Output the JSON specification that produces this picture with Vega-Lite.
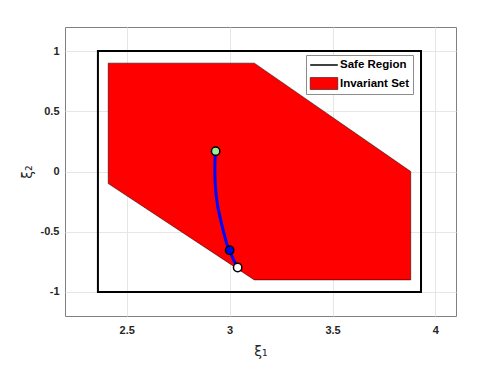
{
  "$schema": "https://vega.github.io/schema/vega-lite/v6.json",
  "width": 391,
  "height": 289,
  "autosize": {"type": "none"},
  "padding": {"left": 65, "top": 27, "right": 47, "bottom": 49},
  "background": "white",
  "config": {
    "view": {"stroke": "#808080", "strokeWidth": 1},
    "font": "Liberation Sans",
    "axis": {
      "domain": false,
      "ticks": false,
      "grid": true,
      "gridColor": "#e6e6e6",
      "gridWidth": 1,
      "labelFont": "Liberation Sans",
      "labelFontWeight": "bold",
      "labelFontSize": 11,
      "labelColor": "#262626",
      "titleFont": "DejaVu Sans",
      "titleFontWeight": "normal",
      "titleFontSize": 14,
      "titleColor": "#262626"
    },
    "legend": {
      "orient": "none",
      "legendX": 241,
      "legendY": 28,
      "padding": 3,
      "fillColor": "white",
      "strokeColor": "#8c8c8c",
      "labelFont": "Liberation Sans",
      "labelFontWeight": "bold",
      "labelFontSize": 11.5,
      "labelColor": "black",
      "rowPadding": 5,
      "symbolOffset": 8,
      "labelOffset": 9,
      "symbolSize": 144,
      "symbolOpacity": 1
    }
  },
  "datasets": {
    "safe": [{"name": "Safe Region", "x1": 2.36, "x2": 3.93, "y1": -1, "y2": 1}],
    "inv": [
      {"name": "Invariant Set", "x": 2.41, "ytop": 0.9, "ybot": -0.1},
      {"name": "Invariant Set", "x": 3.12, "ytop": 0.9, "ybot": -0.9},
      {"name": "Invariant Set", "x": 3.88, "ytop": 0.0, "ybot": -0.9}
    ],
    "legendItems": [{"name": "Safe Region"}, {"name": "Invariant Set"}],
    "traj": [
      {"t": 0, "x": 2.932, "y": 0.169},
      {"t": 1, "x": 2.929, "y": 0.1},
      {"t": 2, "x": 2.928, "y": 0.0},
      {"t": 3, "x": 2.930, "y": -0.1},
      {"t": 4, "x": 2.935, "y": -0.2},
      {"t": 5, "x": 2.943, "y": -0.3},
      {"t": 6, "x": 2.956, "y": -0.4},
      {"t": 7, "x": 2.970, "y": -0.5},
      {"t": 8, "x": 2.986, "y": -0.6},
      {"t": 9, "x": 3.000, "y": -0.654},
      {"t": 10, "x": 3.018, "y": -0.73},
      {"t": 11, "x": 3.039, "y": -0.797}
    ],
    "pts": [
      {"kind": "start", "x": 2.932, "y": 0.169},
      {"kind": "mid", "x": 3.000, "y": -0.654},
      {"kind": "end", "x": 3.039, "y": -0.797}
    ]
  },
  "layer": [
    {
      "data": {"name": "inv"},
      "mark": {"type": "area", "fill": "#ff0000", "stroke": "black", "strokeWidth": 0.5, "opacity": 1},
      "encoding": {
        "x": {"field": "x", "type": "quantitative", "scale": {"domain": [2.2, 4.1], "nice": false, "zero": false},
              "axis": {"values": [2.5, 3, 3.5, 4], "labelExpr": "datum.value + ''", "labelPadding": 8, "title": "ξ₁", "titlePadding": 9}},
        "y": {"field": "ytop", "type": "quantitative", "scale": {"domain": [-1.2, 1.2], "nice": false, "zero": false},
              "axis": {"values": [-1, -0.5, 0, 0.5, 1], "labelExpr": "datum.value + ''", "labelPadding": 6, "title": "ξ₂", "titlePadding": 6}},
        "y2": {"field": "ybot"}
      }
    },
    {
      "data": {"name": "safe"},
      "mark": {"type": "rect", "filled": false, "stroke": "black", "strokeWidth": 2},
      "encoding": {
        "x": {"field": "x1", "type": "quantitative"},
        "x2": {"field": "x2"},
        "y": {"field": "y1", "type": "quantitative"},
        "y2": {"field": "y2"}
      }
    },
    {
      "data": {"name": "legendItems"},
      "mark": {"type": "point", "filled": true, "opacity": 0},
      "encoding": {
        "fill": {"field": "name", "type": "nominal", "title": null,
                 "scale": {"domain": ["Safe Region", "Invariant Set"], "range": ["transparent", "#ff0000"]}},
        "stroke": {"field": "name", "type": "nominal", "title": null,
                 "scale": {"domain": ["Safe Region", "Invariant Set"], "range": ["#000000", "#000000"]}},
        "shape": {"field": "name", "type": "nominal", "title": null,
                  "scale": {"domain": ["Safe Region", "Invariant Set"], "range": ["M-2.3,0H2.3", "M-2.3,-1H2.3V1H-2.3Z"]}},
        "strokeWidth": {"field": "name", "type": "nominal", "title": null,
                  "scale": {"domain": ["Safe Region", "Invariant Set"], "range": [1.5, 0.5]}}
      }
    },
    {
      "data": {"name": "traj"},
      "mark": {"type": "line", "color": "#0000ff", "strokeWidth": 3},
      "encoding": {
        "x": {"field": "x", "type": "quantitative"},
        "y": {"field": "y", "type": "quantitative"},
        "order": {"field": "t", "type": "quantitative"}
      }
    },
    {
      "data": {"name": "pts"},
      "mark": {"type": "point", "filled": true, "shape": "circle", "size": 70, "stroke": "black", "strokeWidth": 1.5, "opacity": 1},
      "encoding": {
        "x": {"field": "x", "type": "quantitative"},
        "y": {"field": "y", "type": "quantitative"},
        "color": {"field": "kind", "type": "nominal", "scale": {"domain": ["start", "mid", "end"], "range": ["#99ee99", "#0000ff", "#ffffff"]}, "legend": null}
      }
    }
  ]
}
